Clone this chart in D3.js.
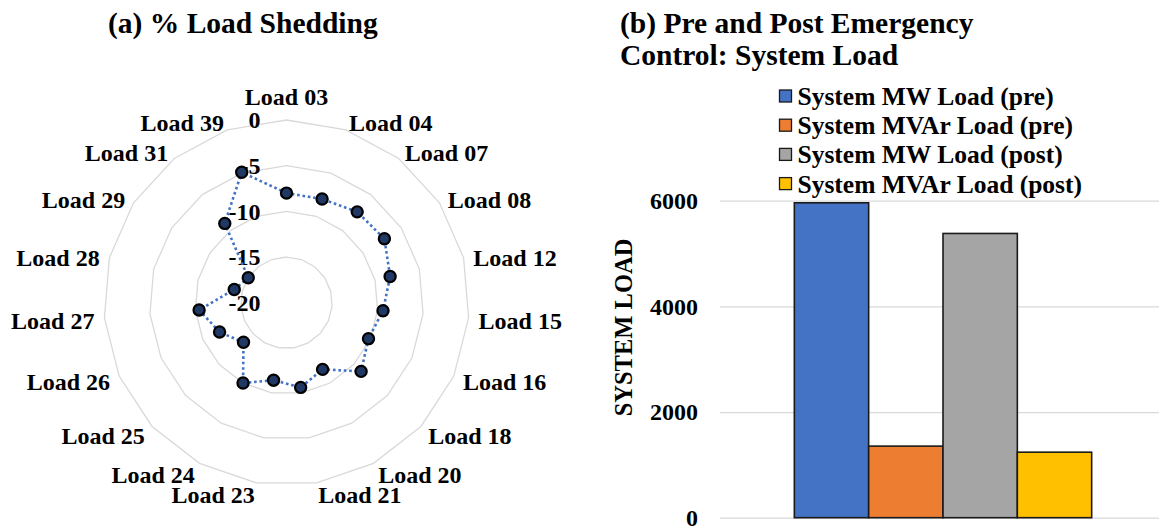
<!DOCTYPE html>
<html>
<head>
  <meta charset="UTF-8">
  <title>Load shedding and system load</title>
  <script src="https://cdn.jsdelivr.net/npm/d3@7"></script>
  <style type="text/css">
    body { margin: 0; background: #fff; }
    svg text { font-family: "Liberation Serif", "Times New Roman", serif; font-weight: bold; fill: #000; }
  </style>
</head>
<body>
<script type="text/javascript">

  // (a) radar data - % load shedding per load bus
  var loadNames = ["Load 03", "Load 04", "Load 07", "Load 08", "Load 12", "Load 15", "Load 16",
                   "Load 18", "Load 20", "Load 21", "Load 23", "Load 24", "Load 25", "Load 26",
                   "Load 27", "Load 28", "Load 29", "Load 31", "Load 39"];
  var shedding = [-8.0, -8.0, -7.4, -7.2, -8.3, -9.4, -10.2, -8.9, -11.7, -10.6,
                  -11.4, -10.0, -13.6, -12.0, -10.4, -14.1, -15.0, -9.0, -4.9];
  var radarTicks = [0, -5, -10, -15, -20];

  // (b) bar data - system load pre / post emergency control
  var seriesNames = ["System MW Load (pre)", "System MVAr Load (pre)",
                     "System MW Load (post)", "System MVAr Load (post)"];
  var systemLoad = [5960, 1355, 5380, 1240];
  var loadTicks = [0, 2000, 4000, 6000];

  var barColors = ["#4472C4", "#ED7D31", "#A5A5A5", "#FFC000"];

  var W = 1159, H = 528;

  var svg = d3.select("body").append("svg")
      .attr("width", W)
      .attr("height", H);

  //---------------- (a) RADAR ----------------
  var cx = 286.5, cy = 302.7, R = 182.7;
  var n = loadNames.length;

  var r = d3.scaleLinear()
      .domain([-20, 0])
      .range([0, R]);

  var angle = function (i) { return i * 2 * Math.PI / n; };

  var radar = svg.append("g")
      .attr("transform", "translate(" + cx + "," + cy + ")");

  svg.append("text")
      .attr("x", 108)
      .attr("y", 33)
      .style("font-size", "29.5px")
      .text("(a) % Load Shedding");

  // ring gridlines (polygons like Excel)
  var ring = d3.lineRadial()
      .angle(function (d, i) { return angle(i); })
      .radius(function (d) { return r(d); })
      .curve(d3.curveLinearClosed);

  radar.selectAll(".ring")
      .data(radarTicks.filter(function (v) { return v > -20; }))
    .enter().append("path")
      .attr("class", "ring")
      .attr("d", function (v) { return ring(d3.range(n).map(function () { return v; })); })
      .attr("fill", "none")
      .attr("stroke", "#d9d9d9")
      .attr("stroke-width", 1.3);

  // value labels on the vertical axis
  radar.selectAll(".rtick")
      .data(radarTicks)
    .enter().append("text")
      .attr("class", "rtick")
      .attr("x", -26)
      .attr("y", function (v) { return -r(v); })
      .attr("dy", "0.35em")
      .attr("text-anchor", "end")
      .style("font-size", "24px")
      .text(function (v) { return v; });

  // category labels
  radar.selectAll(".cat")
      .data(loadNames)
    .enter().append("text")
      .attr("class", "cat")
      .each(function (d, i) {
        var a = angle(i), s = Math.sin(a), c = Math.cos(a);
        var x = (R + 10) * s, y = -(R + 10) * c;
        var anchor = Math.abs(s) < 0.05 ? "middle" : (s > 0 ? "start" : "end");
        var t = d3.select(this)
            .attr("x", x)
            .attr("text-anchor", anchor)
            .style("font-size", "24px");
        if (anchor === "middle") {
          t.attr("y", y - 5);
        } else {
          t.attr("y", y + 2).attr("dy", "0.35em");
        }
      })
      .text(function (d) { return d; });

  // series line
  var seriesLine = d3.lineRadial()
      .angle(function (d, i) { return angle(i); })
      .radius(function (d) { return r(d); })
      .curve(d3.curveLinearClosed);

  radar.append("path")
      .attr("d", seriesLine(shedding))
      .attr("fill", "none")
      .attr("stroke", "#4472C4")
      .attr("stroke-width", 2.6)
      .attr("stroke-dasharray", "2.6,2.8");

  radar.selectAll(".dot")
      .data(shedding)
    .enter().append("circle")
      .attr("class", "dot")
      .attr("cx", function (d, i) { return r(d) * Math.sin(angle(i)); })
      .attr("cy", function (d, i) { return -r(d) * Math.cos(angle(i)); })
      .attr("r", 5.6)
      .attr("fill", "#203864")
      .attr("stroke", "#000")
      .attr("stroke-width", 2.2);

  //---------------- (b) BARS ----------------
  var plot = {left: 720, right: 1166, top: 200.7, bottom: 517.7};

  svg.append("text")
      .attr("x", 620)
      .attr("y", 33)
      .style("font-size", "29.5px")
      .text("(b) Pre and Post Emergency");

  svg.append("text")
      .attr("x", 620)
      .attr("y", 65)
      .style("font-size", "29.5px")
      .text("Control: System Load");

  var y = d3.scaleLinear()
      .domain([0, 6000])
      .range([plot.bottom, plot.top]);

  var x0 = d3.scaleBand()
      .domain(["System Load"])
      .range([plot.left, plot.right])
      .paddingOuter(0.25);

  var x1 = d3.scaleBand()
      .domain(seriesNames)
      .range([0, x0.bandwidth()]);

  var color = d3.scaleOrdinal()
      .domain(seriesNames)
      .range(barColors);

  var yAxis = d3.axisLeft(y)
      .tickValues(loadTicks)
      .tickFormat(d3.format("d"))
      .tickSize(-(W - plot.left))
      .tickPadding(22);

  var yg = svg.append("g")
      .attr("transform", "translate(" + plot.left + ",0)")
      .call(yAxis);
  yg.select(".domain").remove();
  yg.selectAll(".tick line").attr("stroke", "#d9d9d9").attr("stroke-width", 1.3);
  yg.selectAll(".tick text")
      .style("font-size", "24px")
      .style("font-family", "'Liberation Serif', 'Times New Roman', serif")
      .style("font-weight", "bold")
      .attr("fill", "#000");

  svg.append("text")
      .attr("transform", "translate(623,327.5) rotate(-90)")
      .attr("text-anchor", "middle")
      .attr("dy", "0.35em")
      .style("font-size", "24.5px")
      .text("SYSTEM LOAD");

  var g = svg.append("g")
      .attr("transform", "translate(" + x0("System Load") + ",0)");

  g.selectAll("rect")
      .data(systemLoad)
    .enter().append("rect")
      .attr("x", function (d, i) { return x1(seriesNames[i]); })
      .attr("y", function (d) { return y(d); })
      .attr("width", x1.bandwidth())
      .attr("height", function (d) { return y(0) - y(d); })
      .attr("fill", function (d, i) { return color(seriesNames[i]); })
      .attr("stroke", "#1a1a1a")
      .attr("stroke-width", 1.6);

  // legend
  var legend = svg.append("g")
      .attr("transform", "translate(779,96)");

  var item = legend.selectAll(".item")
      .data(seriesNames)
    .enter().append("g")
      .attr("class", "item")
      .attr("transform", function (d, i) { return "translate(0," + (i * 29.2) + ")"; });

  item.append("rect")
      .attr("x", 0.5)
      .attr("y", -6)
      .attr("width", 12)
      .attr("height", 12)
      .attr("fill", function (d) { return color(d); })
      .attr("stroke", "#1a1a1a")
      .attr("stroke-width", 1.3);

  item.append("text")
      .attr("x", 18.5)
      .attr("dy", "0.35em")
      .style("font-size", "25.5px")
      .text(function (d) { return d; });

</script>
</body>
</html>
